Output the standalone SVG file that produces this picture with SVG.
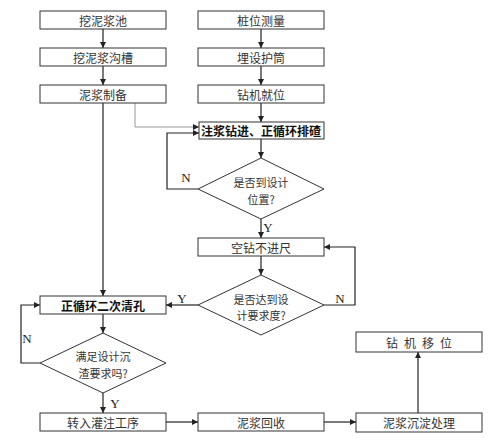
<svg xmlns="http://www.w3.org/2000/svg" width="500" height="438" viewBox="0 0 500 438">
<style>
.box{fill:#fff;stroke:#333;stroke-width:1}
.t{font-family:"Noto Sans CJK SC","Noto Sans",sans-serif;font-size:12px;fill:#333;text-anchor:middle;dominant-baseline:central}
.s{font-size:11px}
.b{font-weight:bold;fill:#111}
.yn{font-family:"Liberation Serif",serif;font-size:13px;fill:#222;text-anchor:middle;dominant-baseline:central}
.ln{fill:none;stroke:#222;stroke-width:1.2}
.lg{fill:none;stroke:#999;stroke-width:1}
</style>
<defs>
<marker id="a" markerWidth="6" markerHeight="6" refX="6" refY="3" orient="auto" markerUnits="userSpaceOnUse">
<path d="M0,0 L6,3 L0,6 Z" fill="#222"/>
</marker>
</defs>
<rect width="500" height="438" fill="#fff"/>
<g id="connectors">
<path class="ln" d="M103,29 V48" marker-end="url(#a)"/>
<path class="ln" d="M103,66 V85" marker-end="url(#a)"/>
<path class="ln" d="M103,103 V296" marker-end="url(#a)"/>
<path class="lg" d="M135,103 V127 H199" marker-end="url(#a)"/>
<path class="ln" d="M261,29 V48" marker-end="url(#a)"/>
<path class="ln" d="M261,66 V85" marker-end="url(#a)"/>
<path class="ln" d="M261,103 V122" marker-end="url(#a)"/>
<path class="ln" d="M261,139 V158" marker-end="url(#a)"/>
<path class="ln" d="M198,189 H167 V133 H199" marker-end="url(#a)"/>
<path class="ln" d="M261,219 V238" marker-end="url(#a)"/>
<path class="ln" d="M261,256 V275" marker-end="url(#a)"/>
<path class="ln" d="M324,305 H355 V247 H324" marker-end="url(#a)"/>
<path class="ln" d="M198,305 H166" marker-end="url(#a)"/>
<path class="ln" d="M103,314 V333" marker-end="url(#a)"/>
<path class="ln" d="M40,363 H21 V305 H40" marker-end="url(#a)"/>
<path class="ln" d="M103,393 V413" marker-end="url(#a)"/>
<path class="ln" d="M166,422 H198" marker-end="url(#a)"/>
<path class="ln" d="M324,422 H356" marker-end="url(#a)"/>
<path class="ln" d="M418,413 V352" marker-end="url(#a)"/>
<text class="yn" x="186" y="177">N</text>
<text class="yn" x="268" y="227">Y</text>
<text class="yn" x="340" y="298">N</text>
<text class="yn" x="182" y="298">Y</text>
<text class="yn" x="27" y="338">N</text>
<text class="yn" x="115" y="403">Y</text>
</g>
<g id="n1"><rect class="box" x="40" y="11" width="126" height="18"/><text class="t" x="103" y="20">挖泥浆池</text></g>
<g id="n2"><rect class="box" x="40" y="48" width="126" height="18"/><text class="t" x="103" y="57">挖泥浆沟槽</text></g>
<g id="n3"><rect class="box" x="40" y="85" width="126" height="18"/><text class="t" x="103" y="94">泥浆制备</text></g>
<g id="n4"><rect class="box" x="198" y="11" width="126" height="18"/><text class="t" x="261" y="20">桩位测量</text></g>
<g id="n5"><rect class="box" x="198" y="48" width="126" height="18"/><text class="t" x="261" y="57">埋设护筒</text></g>
<g id="n6"><rect class="box" x="198" y="85" width="126" height="18"/><text class="t" x="261" y="94">钻机就位</text></g>
<g id="n7"><rect class="box" x="199" y="122" width="125" height="17"/><text class="t b" x="261" y="130.5">注浆钻进、正循环排碴</text></g>
<g id="d1"><path class="box" d="M261,158 L324,189 L261,219 L198,189 Z"/><text class="t s" x="261" y="182">是否到设计</text><text class="t s" x="261" y="198.5">位置?</text></g>
<g id="n8"><rect class="box" x="198" y="238" width="126" height="18"/><text class="t" x="261" y="247">空钻不进尺</text></g>
<g id="d2"><path class="box" d="M261,275 L324,305 L261,335 L198,305 Z"/><text class="t s" x="261" y="298.5">是否达到设</text><text class="t s" x="261" y="315">计要求度?</text></g>
<g id="n9"><rect class="box" x="40" y="296" width="126" height="18"/><text class="t b" x="103" y="305">正循环二次清孔</text></g>
<g id="d3"><path class="box" d="M103,333 L166,363 L103,393 L40,363 Z"/><text class="t s" x="103" y="356">满足设计沉</text><text class="t s" x="103" y="372.5">渣要求吗?</text></g>
<g id="n10"><rect class="box" x="40" y="413" width="126" height="18"/><text class="t" x="103" y="422">转入灌注工序</text></g>
<g id="n11"><rect class="box" x="198" y="413" width="126" height="18"/><text class="t" x="261" y="422">泥浆回收</text></g>
<g id="n12"><rect class="box" x="356" y="413" width="126" height="19"/><text class="t" x="419" y="422.5">泥浆沉淀处理</text></g>
<g id="n13"><rect class="box" x="356" y="332" width="126" height="20"/><text class="t" x="422" y="342" letter-spacing="6">钻机移位</text></g>
</svg>
